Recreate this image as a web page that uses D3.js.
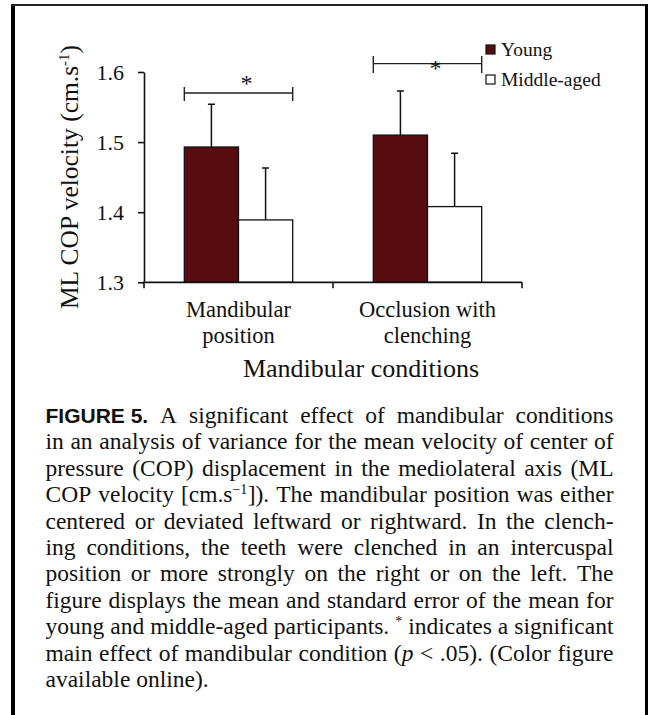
<!DOCTYPE html>
<html>
<head>
<meta charset="utf-8">
<script src="https://cdn.jsdelivr.net/npm/d3@7/dist/d3.min.js"></script>
<style>
	body { margin: 0; background: #fff; }
	svg { display: block; }
	text { font-family: "Liberation Serif", "Times New Roman", serif; fill: #111; }
	.axis path, .axis line { stroke: #111; stroke-width: 1.6; }
</style>
</head>
<body>
<svg id="chart" width="648" height="715"></svg>
<script>
//Chart values
var categories = ["Mandibular position", "Occlusion with clenching"];
var categoryLines = [["Mandibular", "position"], ["Occlusion with", "clenching"]];
var series = ["Young", "Middle-aged"];
var youngMeans = [1.493, 1.510];
var middleMeans = [1.389, 1.408];
var youngSE = [0.061, 0.063];
var middleSE = [0.074, 0.076];
var yTicks = [1.3, 1.4, 1.5, 1.6];
var sigLevels = [1.570, 1.612];
var colors = ["#570d10", "#ffffff"];

var captionLines = [
	"*b{FIGURE\u00a05.} A significant effect of mandibular conditions",
	"in an analysis of variance for the mean velocity of center of",
	"pressure (COP) displacement in the mediolateral axis (ML",
	"COP velocity [cm.s^{\u22121}]). The mandibular position was either",
	"centered or deviated leftward or rightward. In the clench-",
	"ing conditions, the teeth were clenched in an intercuspal",
	"position or more strongly on the right or on the left. The",
	"figure displays the mean and standard error of the mean for",
	"young and middle-aged participants. ^{*} indicates a significant",
	"main effect of mandibular condition (*i{p} < .05). (Color figure",
	"available online)."
];

var chart = {
	margin: {top: 72, left: 144, right: 126, bottom: 432.7},
	width: 648,
	height: 715,
	initiate: function(){
		var self = this;
		self.svg = d3.select("#chart");

		self.x = d3.scaleBand()
			.domain(categories)
			.range([self.margin.left, self.width - self.margin.right])
			.padding(0);

		self.x1 = d3.scaleBand()
			.domain(series)
			.range([0, self.x.bandwidth()])
			.paddingInner(0)
			.paddingOuter(0.744);

		self.y = d3.scaleLinear()
			.domain([1.3, 1.6])
			.range([self.height - self.margin.bottom, self.margin.top]);

		self.drawFrame();
		self.drawBars();
		self.drawAxes();
		self.drawSignificance();
		self.drawLegend();
		self.drawCaption();
	},
	drawFrame: function(){
		var self = this;
		self.svg.append("line").attr("x1", 13).attr("x2", 13).attr("y1", 4).attr("y2", 715)
			.attr("stroke", "#000").attr("stroke-width", 4);
		self.svg.append("line").attr("x1", 11).attr("x2", 648).attr("y1", 5).attr("y2", 5)
			.attr("stroke", "#222").attr("stroke-width", 2);
		self.svg.append("line").attr("x1", 646.5).attr("x2", 646.5).attr("y1", 4).attr("y2", 715)
			.attr("stroke", "#000").attr("stroke-width", 3);
	},
	drawBars: function(){
		var self = this;
		var rows = [];
		categories.forEach(function(cat, i){
			rows.push({cat: cat, s: series[0], v: youngMeans[i], se: youngSE[i], c: colors[0]});
			rows.push({cat: cat, s: series[1], v: middleMeans[i], se: middleSE[i], c: colors[1]});
		});

		var g = self.svg.append("g");
		g.selectAll("rect")
			.data(rows)
			.enter().append("rect")
			.attr("x", function(d){ return self.x(d.cat) + self.x1(d.s); })
			.attr("y", function(d){ return self.y(d.v); })
			.attr("width", self.x1.bandwidth())
			.attr("height", function(d){ return self.y(1.3) - self.y(d.v); })
			.attr("fill", function(d){ return d.c; })
			.attr("stroke", "#111")
			.attr("stroke-width", 1.3);

		//Error bars, upper half only
		var cx = function(d){ return self.x(d.cat) + self.x1(d.s) + self.x1.bandwidth() / 2; };
		g.selectAll(".err")
			.data(rows)
			.enter().append("path")
			.attr("class", "err")
			.attr("fill", "none")
			.attr("stroke", "#111")
			.attr("stroke-width", 1.5)
			.attr("d", function(d){
				var x0 = cx(d), y0 = self.y(d.v), y1 = self.y(d.v + d.se);
				return "M" + x0 + "," + y0 + "V" + y1 + "M" + (x0 - 3.5) + "," + y1 + "H" + (x0 + 3.5);
			});
	},
	drawAxes: function(){
		var self = this;
		var base = self.y(1.3);

		var yAxis = self.svg.append("g")
			.attr("class", "axis")
			.attr("transform", "translate(" + self.margin.left + ",0)")
			.call(d3.axisLeft(self.y).tickValues(yTicks).tickSize(6).tickSizeOuter(0).tickPadding(14).tickFormat(d3.format(".1f")));
		yAxis.attr("font-family", null);
		yAxis.selectAll("text").style("font-size", "22px").attr("fill", "#111");

		//x axis line and boundary ticks
		var xr = self.x.range();
		self.svg.append("line")
			.attr("x1", xr[0] - 1).attr("x2", xr[1])
			.attr("y1", base).attr("y2", base)
			.attr("stroke", "#111").attr("stroke-width", 1.8);
		var bounds = categories.map(function(c){ return self.x(c); }).concat([xr[1]]);
		self.svg.selectAll(".xtick")
			.data(bounds)
			.enter().append("line")
			.attr("class", "xtick")
			.attr("x1", function(d){ return d; }).attr("x2", function(d){ return d; })
			.attr("y1", base).attr("y2", base + 6)
			.attr("stroke", "#111").attr("stroke-width", 1.6);

		//Category labels
		categoryLines.forEach(function(lines, i){
			var t = self.svg.append("text")
				.attr("text-anchor", "middle")
				.attr("x", self.x(categories[i]) + self.x.bandwidth() / 2)
				.attr("y", base + 34.5)
				.style("font-size", "22.5px");
			lines.forEach(function(l, j){
				t.append("tspan")
					.attr("x", self.x(categories[i]) + self.x.bandwidth() / 2)
					.attr("dy", j === 0 ? 0 : 26.5)
					.text(l);
			});
		});

		//Axis titles
		self.svg.append("text")
			.attr("text-anchor", "middle")
			.attr("x", 361)
			.attr("y", base + 94.5)
			.style("font-size", "26px")
			.text("Mandibular conditions");

		var yt = self.svg.append("text")
			.attr("text-anchor", "middle")
			.attr("transform", "translate(78,177) rotate(-90)")
			.style("font-size", "25.5px");
		yt.append("tspan").text("ML COP velocity (cm.s");
		yt.append("tspan").attr("dy", -9).style("font-size", "15px").text("-1");
		yt.append("tspan").attr("dy", 9).text(")");
	},
	drawSignificance: function(){
		var self = this;
		var g = self.svg.append("g");
		categories.forEach(function(cat, i){
			var x0 = self.x(cat) + self.x1(series[0]),
				x1 = self.x(cat) + self.x1(series[1]) + self.x1.bandwidth(),
				yv = self.y(sigLevels[i]),
				h = i === 0 ? 8 : 9.5;
			g.append("path")
				.attr("fill", "none")
				.attr("stroke", "#222")
				.attr("stroke-width", 1.4)
				.attr("d", "M" + x0 + "," + yv + "H" + x1 +
					"M" + x0 + "," + (yv - h + 2) + "V" + (yv + h) +
					"M" + x1 + "," + (yv - h + 2) + "V" + (yv + h));
			g.append("text")
				.attr("text-anchor", "middle")
				.attr("x", (x0 + x1) / 2 + 8)
				.attr("y", i === 0 ? yv - 2 : yv + 12)
				.style("font-size", "24px")
				.text("*");
		});
	},
	drawLegend: function(){
		var self = this;
		var lg = self.svg.append("g").attr("transform", "translate(486,45)");
		series.forEach(function(s, i){
			lg.append("rect")
				.attr("x", 0).attr("y", i * 30)
				.attr("width", 9).attr("height", 9)
				.attr("fill", colors[i])
				.attr("stroke", "#111").attr("stroke-width", 1.2);
			lg.append("text")
				.attr("x", 15).attr("y", i * 30 + 10.5)
				.style("font-size", "19.5px")
				.text(s);
		});
	},
	drawCaption: function(){
		var self = this;
		var left = 45.5, right = 613.5, top = 423, lh = 26.4;

		function addSegments(t, word){
			var re = /(\*b\{[^}]*\}|\*i\{[^}]*\}|\^\{[^}]*\})/;
			word.split(re).forEach(function(seg){
				if (!seg) return;
				if (seg.indexOf("*b{") === 0){
					t.append("tspan").style("font-family", "'Liberation Sans', Arial, sans-serif")
						.style("font-weight", "bold").style("font-size", "21px").text(seg.slice(3, -1));
				}else if (seg.indexOf("*i{") === 0){
					t.append("tspan").style("font-style", "italic").text(seg.slice(3, -1));
				}else if (seg.indexOf("^{") === 0){
					t.append("tspan").attr("dy", -8).style("font-size", "14px").text(seg.slice(2, -1));
					t.append("tspan").attr("dy", 8).style("font-size", "1px").text(" ");
				}else{
					t.append("tspan").text(seg);
				}
			});
		}

		captionLines.forEach(function(line, i){
			var words = line.split(" "),
				y = top + i * lh,
				els = [];
			words.forEach(function(w){
				var t = self.svg.append("text")
					.attr("y", y)
					.style("font-size", "23.5px");
				addSegments(t, w);
				els.push(t);
			});
			var widths = els.map(function(t){ return t.node().getComputedTextLength(); });
			var total = d3.sum(widths);
			var gap = (i === captionLines.length - 1 || els.length < 2) ? 5.9 : (right - left - total) / (els.length - 1);
			var xpos = left;
			els.forEach(function(t, k){
				t.attr("x", xpos);
				xpos += widths[k] + gap;
			});
		});
	}
};

chart.initiate();
</script>
</body>
</html>
